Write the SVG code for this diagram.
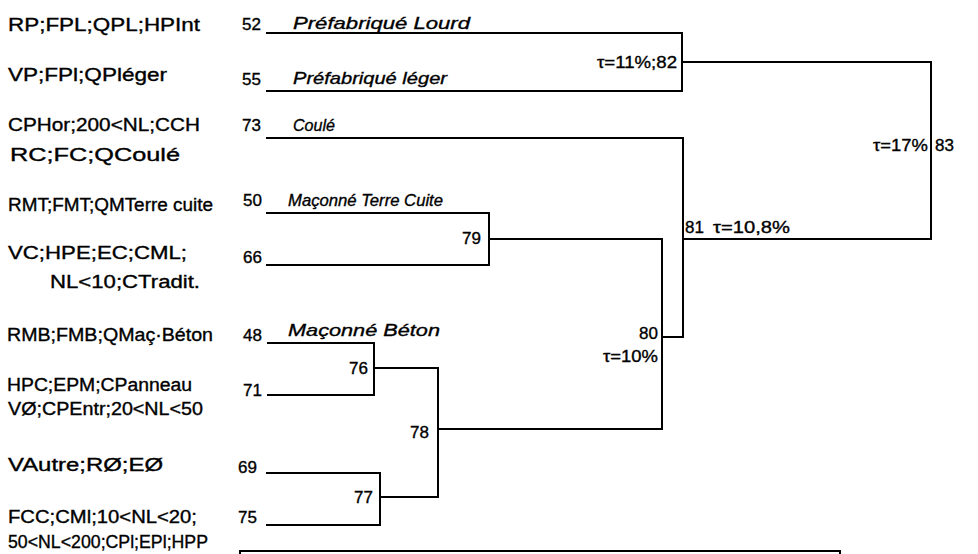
<svg xmlns="http://www.w3.org/2000/svg" width="978" height="554" viewBox="0 0 978 554">
<style>
  text { font-family: "Liberation Sans", "DejaVu Sans", sans-serif; fill: #000; stroke: #000; stroke-width: 0.35; }
  .lab { font-size: 18px; }
  .num { font-size: 17px; }
  .name { font-size: 17px; font-style: italic; }
  .node { font-size: 17px; }
  .edge { fill: none; stroke: #000; stroke-width: 2; stroke-linejoin: miter; stroke-linecap: square; }
</style>
<rect width="978" height="554" fill="#fff"/>

<g id="connectors">
  <path class="edge" d="M267,33 H682 V91 H267"/>
  <path class="edge" d="M682,62 H931 V239 H683"/>
  <path class="edge" d="M267,138 H683 V337 H662"/>
  <path class="edge" d="M267,213 H489 V265 H267"/>
  <path class="edge" d="M489,239 H662 V429 H438"/>
  <path class="edge" d="M268,343 H374 V395 H268"/>
  <path class="edge" d="M374,368 H438 V497 H380"/>
  <path class="edge" d="M267,473 H380 V525 H267"/>
  <path class="edge" d="M240,556 V551 H840 V556"/>
</g>

<g id="leaf-52">
  <text class="lab" x="8" y="31" textLength="192" lengthAdjust="spacingAndGlyphs">RP;FPL;QPL;HPInt</text>
  <text class="num" x="242" y="30">52</text>
  <text class="name" x="293" y="29" textLength="177" lengthAdjust="spacingAndGlyphs">Préfabriqué Lourd</text>
</g>
<g id="leaf-55">
  <text class="lab" x="8" y="81" textLength="159" lengthAdjust="spacingAndGlyphs">VP;FPl;QPléger</text>
  <text class="num" x="242" y="85">55</text>
  <text class="name" x="293" y="84" textLength="154" lengthAdjust="spacingAndGlyphs">Préfabriqué léger</text>
</g>
<g id="leaf-73">
  <text class="lab" x="8" y="131" textLength="192" lengthAdjust="spacingAndGlyphs">CPHor;200&lt;NL;CCH</text>
  <text class="lab" x="10" y="161" textLength="170" lengthAdjust="spacingAndGlyphs">RC;FC;QCoulé</text>
  <text class="num" x="242" y="131">73</text>
  <text class="name" x="293" y="131" textLength="42" lengthAdjust="spacingAndGlyphs">Coulé</text>
</g>
<g id="leaf-50">
  <text class="lab" x="8" y="211" textLength="205" lengthAdjust="spacingAndGlyphs">RMT;FMT;QMTerre cuite</text>
  <text class="num" x="243" y="206">50</text>
  <text class="name" x="288" y="206" textLength="155" lengthAdjust="spacingAndGlyphs">Maçonné Terre Cuite</text>
</g>
<g id="leaf-66">
  <text class="lab" x="8" y="259" textLength="179" lengthAdjust="spacingAndGlyphs">VC;HPE;EC;CML;</text>
  <text class="lab" x="50" y="288" textLength="150" lengthAdjust="spacingAndGlyphs">NL&lt;10;CTradit.</text>
  <text class="num" x="243" y="263">66</text>
</g>
<g id="leaf-48">
  <text class="lab" x="7" y="341" textLength="206" lengthAdjust="spacingAndGlyphs">RMB;FMB;QMaç·Béton</text>
  <text class="num" x="243" y="341">48</text>
  <text class="name" x="288" y="336" textLength="152" lengthAdjust="spacingAndGlyphs">Maçonné Béton</text>
</g>
<g id="leaf-71">
  <text class="lab" x="7" y="391" textLength="185" lengthAdjust="spacingAndGlyphs">HPC;EPM;CPanneau</text>
  <text class="lab" x="8" y="415" textLength="195" lengthAdjust="spacingAndGlyphs">VØ;CPEntr;20&lt;NL&lt;50</text>
  <text class="num" x="243" y="396">71</text>
</g>
<g id="leaf-69">
  <text class="lab" x="8" y="471" textLength="155" lengthAdjust="spacingAndGlyphs">VAutre;RØ;EØ</text>
  <text class="num" x="238" y="473">69</text>
</g>
<g id="leaf-75">
  <text class="lab" x="8" y="523" textLength="189" lengthAdjust="spacingAndGlyphs">FCC;CMl;10&lt;NL&lt;20;</text>
  <text class="lab" x="8" y="548" textLength="200" lengthAdjust="spacingAndGlyphs">50&lt;NL&lt;200;CPl;EPl;HPP</text>
  <text class="num" x="238" y="523">75</text>
</g>

<g id="node-82">
  <text class="node" x="597" y="68" textLength="80" lengthAdjust="spacingAndGlyphs">τ=11%;82</text>
</g>
<g id="node-83">
  <text class="node" x="873" y="151" textLength="55" lengthAdjust="spacingAndGlyphs">τ=17%</text>
  <text class="node" x="935" y="151">83</text>
</g>
<g id="node-81">
  <text class="node" x="685" y="233">81</text>
  <text class="node" x="713" y="233" textLength="77" lengthAdjust="spacingAndGlyphs">τ=10,8%</text>
</g>
<g id="node-80">
  <text class="node" x="639" y="339">80</text>
  <text class="node" x="603" y="362" textLength="55" lengthAdjust="spacingAndGlyphs">τ=10%</text>
</g>
<g id="node-79">
  <text class="node" x="462" y="244">79</text>
</g>
<g id="node-78">
  <text class="node" x="410" y="438">78</text>
</g>
<g id="node-77">
  <text class="node" x="354" y="503">77</text>
</g>
<g id="node-76">
  <text class="node" x="349" y="374">76</text>
</g>
</svg>
